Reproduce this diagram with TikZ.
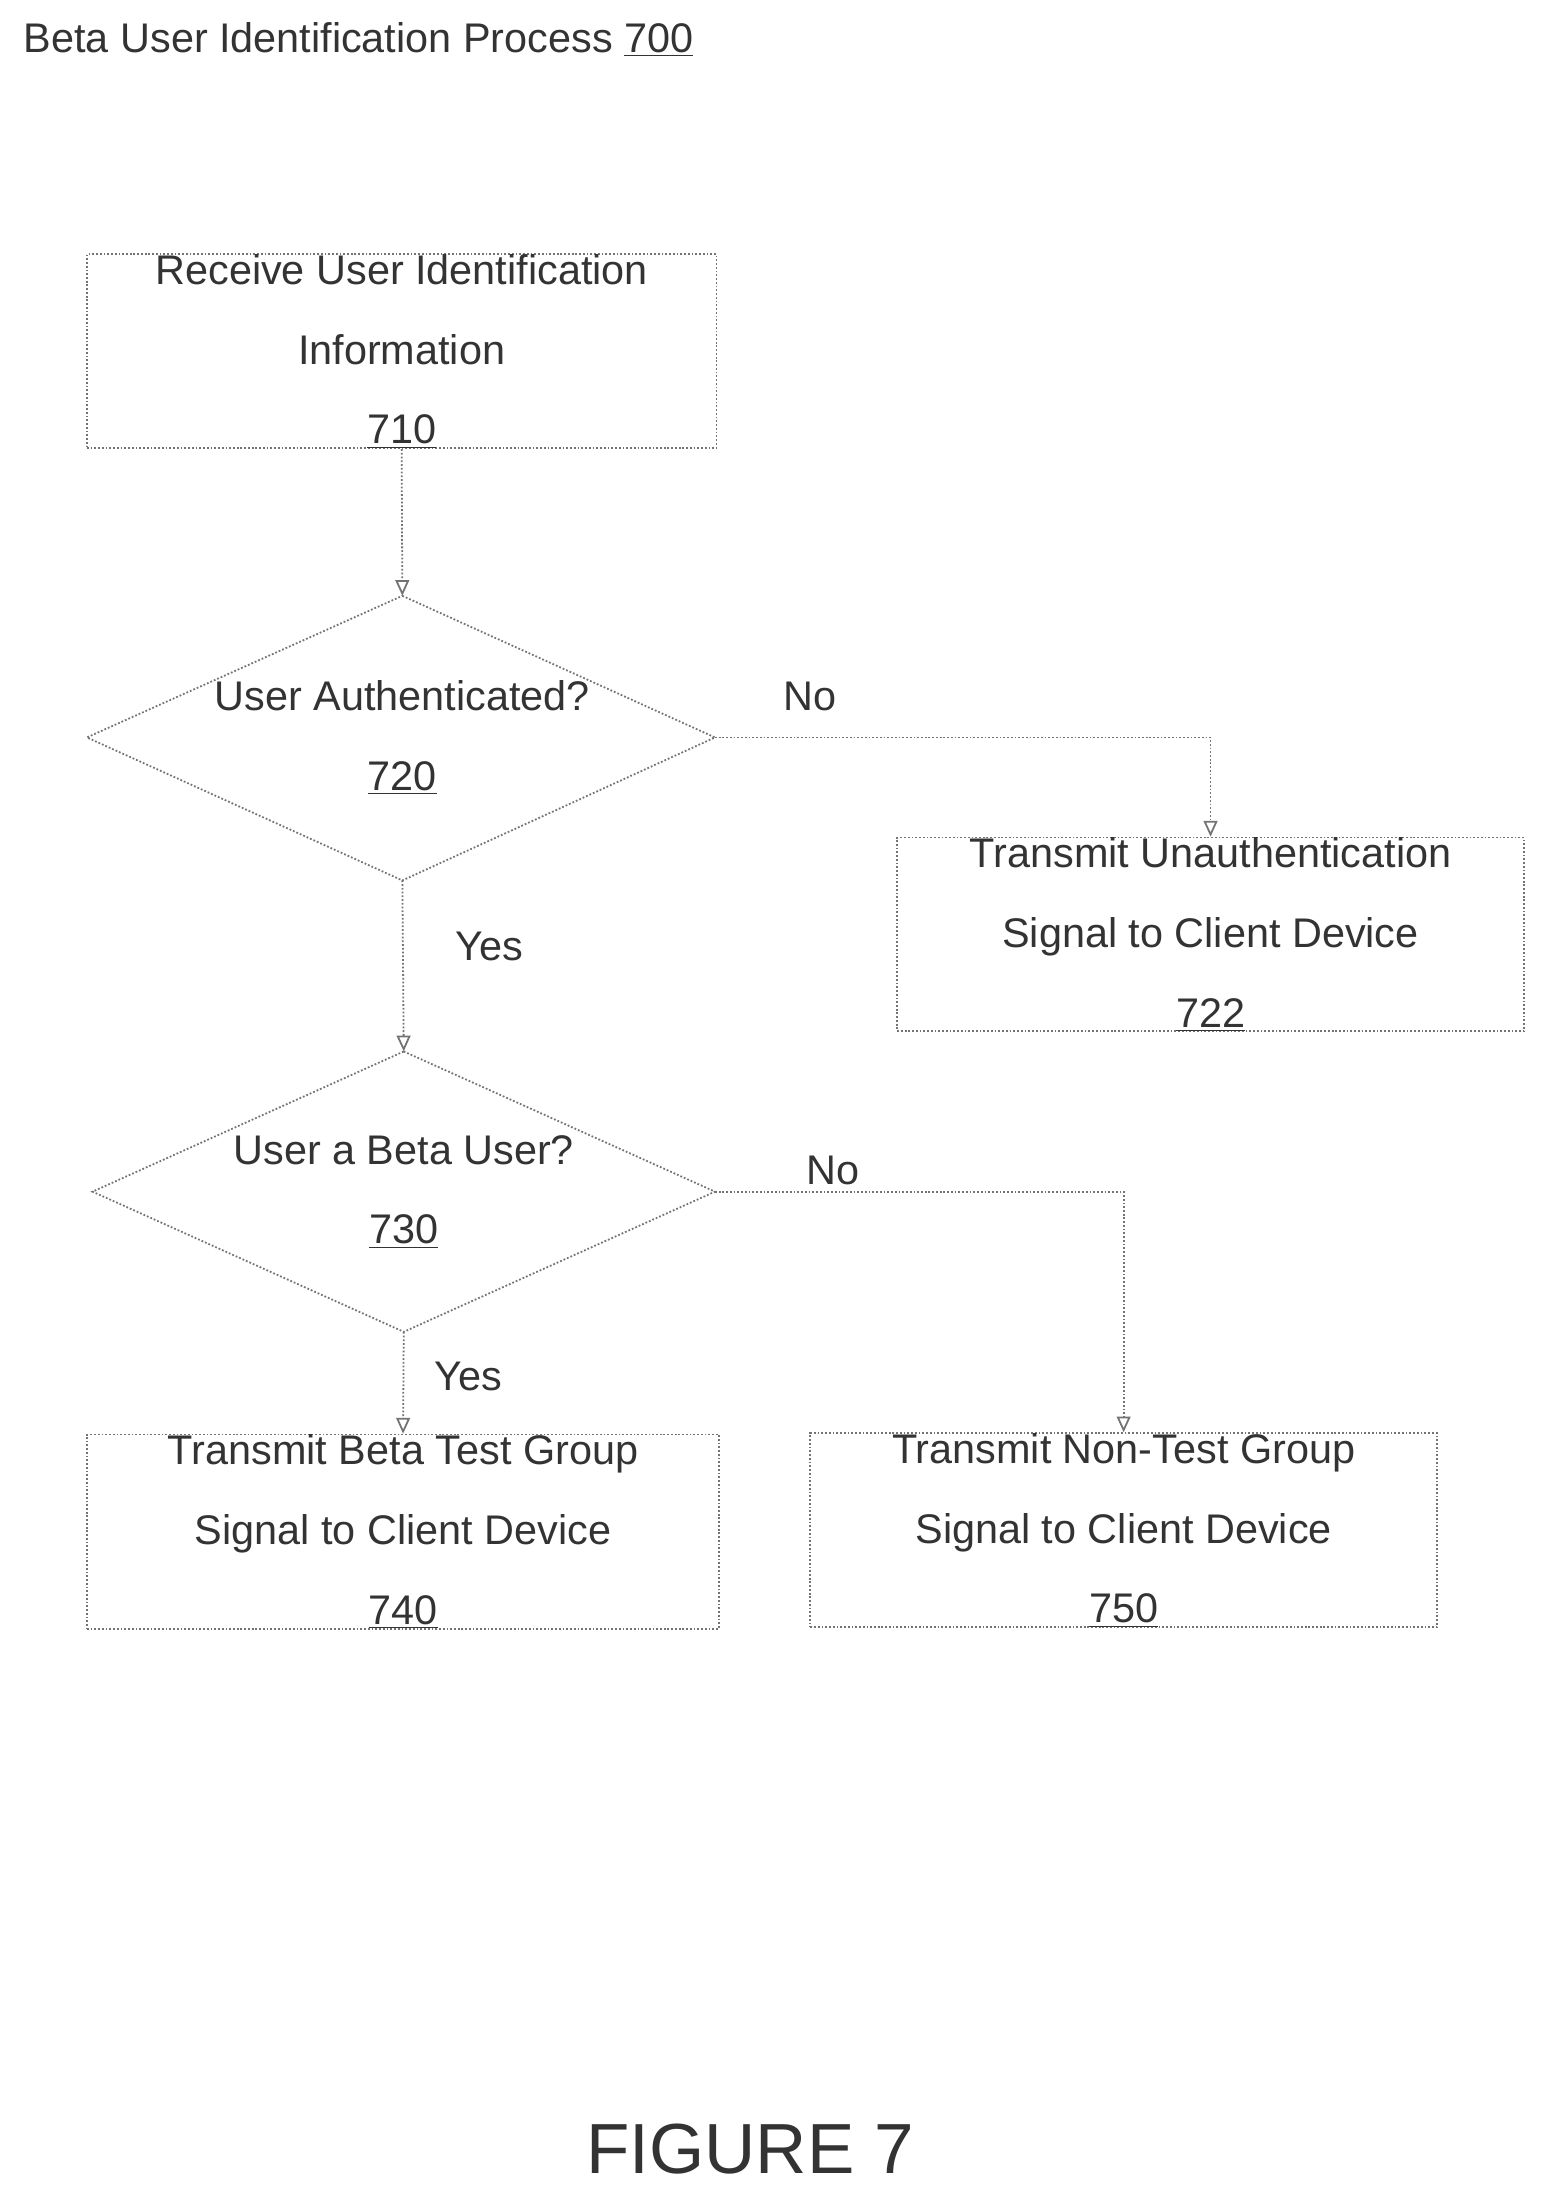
\documentclass[tikz,border=0pt]{standalone}
\usepackage{fontspec}
\setmainfont{Liberation Sans}
\usetikzlibrary{arrows.meta}
\begin{document}
\begin{tikzpicture}[x=0.025cm,y=-0.025cm,
  ln/.style={draw=black!55,densely dotted,line width=0.9pt},
  arr/.style={ln,-{Triangle[width=7pt,length=8pt,open]}},
  txt/.style={font=\fontsize{21}{40.5}\selectfont,align=center,text=black!80},
  lbl/.style={font=\fontsize{21}{25}\selectfont,text=black!80}]
\useasboundingbox (0,0) rectangle (1100,1560);
\node[anchor=west,lbl] (title) at (12,28) {Beta User Identification Process \underline{700}};
% boxes
\node[ln,minimum width=449*0.025cm,minimum height=123*0.025cm,txt,inner sep=0pt] (b710) at (286.5,250.5) {Receive User Identification\\Information\\\underline{710}};
\node[ln,minimum width=447*0.025cm,minimum height=123*0.025cm,txt,inner sep=0pt] (b722) at (863.5,666.5) {Transmit Unauthentication\\Signal to Client Device\\\underline{722}};
\node[ln,minimum width=451*0.025cm,minimum height=125*0.025cm,txt,inner sep=0pt] (b740) at (287.5,1092.5) {Transmit Beta Test Group\\Signal to Client Device\\\underline{740}};
\node[ln,minimum width=447*0.025cm,minimum height=127*0.025cm,txt,inner sep=0pt] (b750) at (801.5,1091.5) {Transmit Non-Test Group\\Signal to Client Device\\\underline{750}};
% diamond 720
\coordinate (d1t) at (287,425); \coordinate (d1r) at (510,526);
\coordinate (d1b) at (287,628); \coordinate (d1l) at (62,526);
\draw[ln] (d1t)--(d1r)--(d1b)--(d1l)--cycle;
\node[txt] (t720) at (287,526) {User Authenticated?\\\underline{720}};
% diamond 730
\coordinate (d2t) at (288,750); \coordinate (d2r) at (510,850);
\coordinate (d2b) at (288,950); \coordinate (d2l) at (66,850);
\draw[ln] (d2t)--(d2r)--(d2b)--(d2l)--cycle;
\node[txt] (t730) at (288,850) {User a Beta User?\\\underline{730}};
% arrows
\draw[arr] (b710.south) -- (d1t);
\draw[arr] (d1r) -| (b722.north);
\draw[arr] (d1b) -- (d2t);
\draw[arr] (d2r) -| (b750.north);
\draw[arr] (d2b) -- (b740.north);
% labels
\node[lbl] (no1) at (578,497) {No};
\node[lbl] (yes1) at (349,675) {Yes};
\node[lbl] (no2) at (594,835) {No};
\node[lbl] (yes2) at (334,982) {Yes};
\node[font=\fontsize{36}{40}\selectfont,text=black!80] (fig) at (535,1533) {FIGURE 7};
\end{tikzpicture}
\end{document}
